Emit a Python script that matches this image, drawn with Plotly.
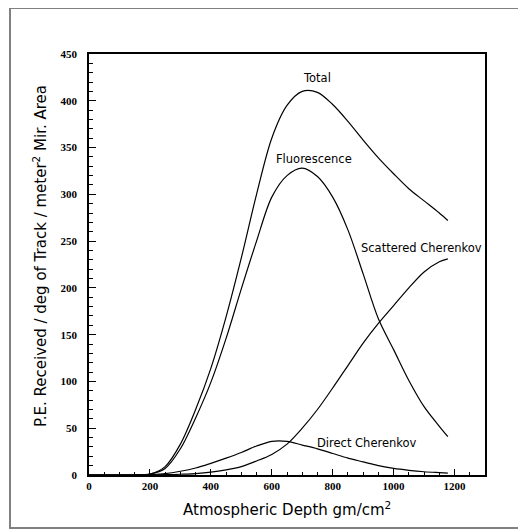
import plotly.graph_objects as go

# Atmospheric depth (gm/cm^2)
depth = [0, 100, 150, 200, 250, 300, 350, 400, 450, 500, 550, 600, 650,
         700, 750, 800, 850, 900, 950, 1000, 1050, 1100, 1150, 1178]

# P.E. received per series
total = [0, 0, 0, 1, 9, 33, 70, 114, 169, 232, 300, 360, 395,
         410, 409, 396, 378, 358, 339, 322, 306, 293, 280, 272]
fluorescence = [0, 0, 0, 1, 7, 28, 61, 99, 146, 199, 250, 297, 320,
                328, 319, 297, 262, 215, 167, 134, 101, 73, 52, 41]
scattered = [0, 0, 0, 0, 0.3, 0.8, 1.5, 3, 5.5, 9, 15, 22, 33,
             50, 70, 93, 117, 141, 162, 181, 200, 217, 228, 231]
direct = [0, 0, 0, 0.5, 1.5, 4, 7.5, 12.5, 18, 24, 31, 36, 36,
          32, 28, 23, 18, 14, 10, 7, 5, 3.5, 2.5, 2]

series = [("Total", total), ("Fluorescence", fluorescence),
          ("Scattered Cherenkov", scattered), ("Direct Cherenkov", direct)]

fig = go.Figure()
for name, vals in series:
    fig.add_trace(go.Scatter(x=depth, y=vals, mode="lines", name=name,
                             line=dict(color="black", width=1.2, shape="spline", smoothing=0.9)))

# подписи кривых
labels = [("Total", 747, 424), ("Fluorescence", 737, 338),
          ("Scattered Cherenkov", 1091, 243), ("Direct Cherenkov", 913, 34)]
for txt, lx, ly in labels:
    fig.add_annotation(x=lx, y=ly, text=txt, showarrow=False,
                       font=dict(family="DejaVu Sans", size=11.5, color="black"))

# подписи осей
fig.add_annotation(xref="paper", yref="paper", x=0.5, y=-0.081,
                   xanchor="center", yanchor="middle",
                   text="Atmospheric Depth gm/cm<sup>2</sup>", showarrow=False,
                   font=dict(family="DejaVu Sans", size=15, color="black"))
fig.add_annotation(xref="paper", yref="paper", x=-0.124, y=0.52, textangle=-90,
                   xanchor="center", yanchor="middle",
                   text="P.E. Received / deg of Track / meter<sup>2</sup> Mir. Area",
                   showarrow=False, font=dict(family="DejaVu Sans", size=15, color="black"))

# внешняя рамка
fig.add_shape(type="rect", xref="paper", yref="paper",
              x0=-0.1995, x1=1.088, y0=-0.126, y1=1.109,
              line=dict(color="#808080", width=2))

tickfont = dict(family="Liberation Serif", size=11, color="black", weight="bold")
fig.update_xaxes(range=[0, 1300], tickvals=[0, 200, 400, 600, 800, 1000, 1200],
                 ticks="inside", ticklen=6, tickwidth=1, tickcolor="black",
                 minor=dict(dtick=50, ticks="inside", ticklen=3, tickcolor="black"),
                 showline=True, linecolor="black", linewidth=1.5, mirror=True,
                 showgrid=False, zeroline=False, tickfont=tickfont, ticklabelstandoff=0)
fig.update_yaxes(range=[0, 450], dtick=50,
                 ticks="inside", ticklen=7, tickwidth=1, tickcolor="black",
                 minor=dict(dtick=10, ticks="inside", ticklen=4, tickcolor="black"),
                 showline=True, linecolor="black", linewidth=1.5, mirror=True,
                 showgrid=False, zeroline=False, tickfont=tickfont, ticklabelstandoff=8)

# страница имеет отступ 8px, поэтому фигура чуть меньше окна
fig.update_layout(width=518, height=523, showlegend=False,
                  margin=dict(l=81, r=41, t=46, b=56),
                  plot_bgcolor="white", paper_bgcolor="white")

fig.write_html("out.html")
